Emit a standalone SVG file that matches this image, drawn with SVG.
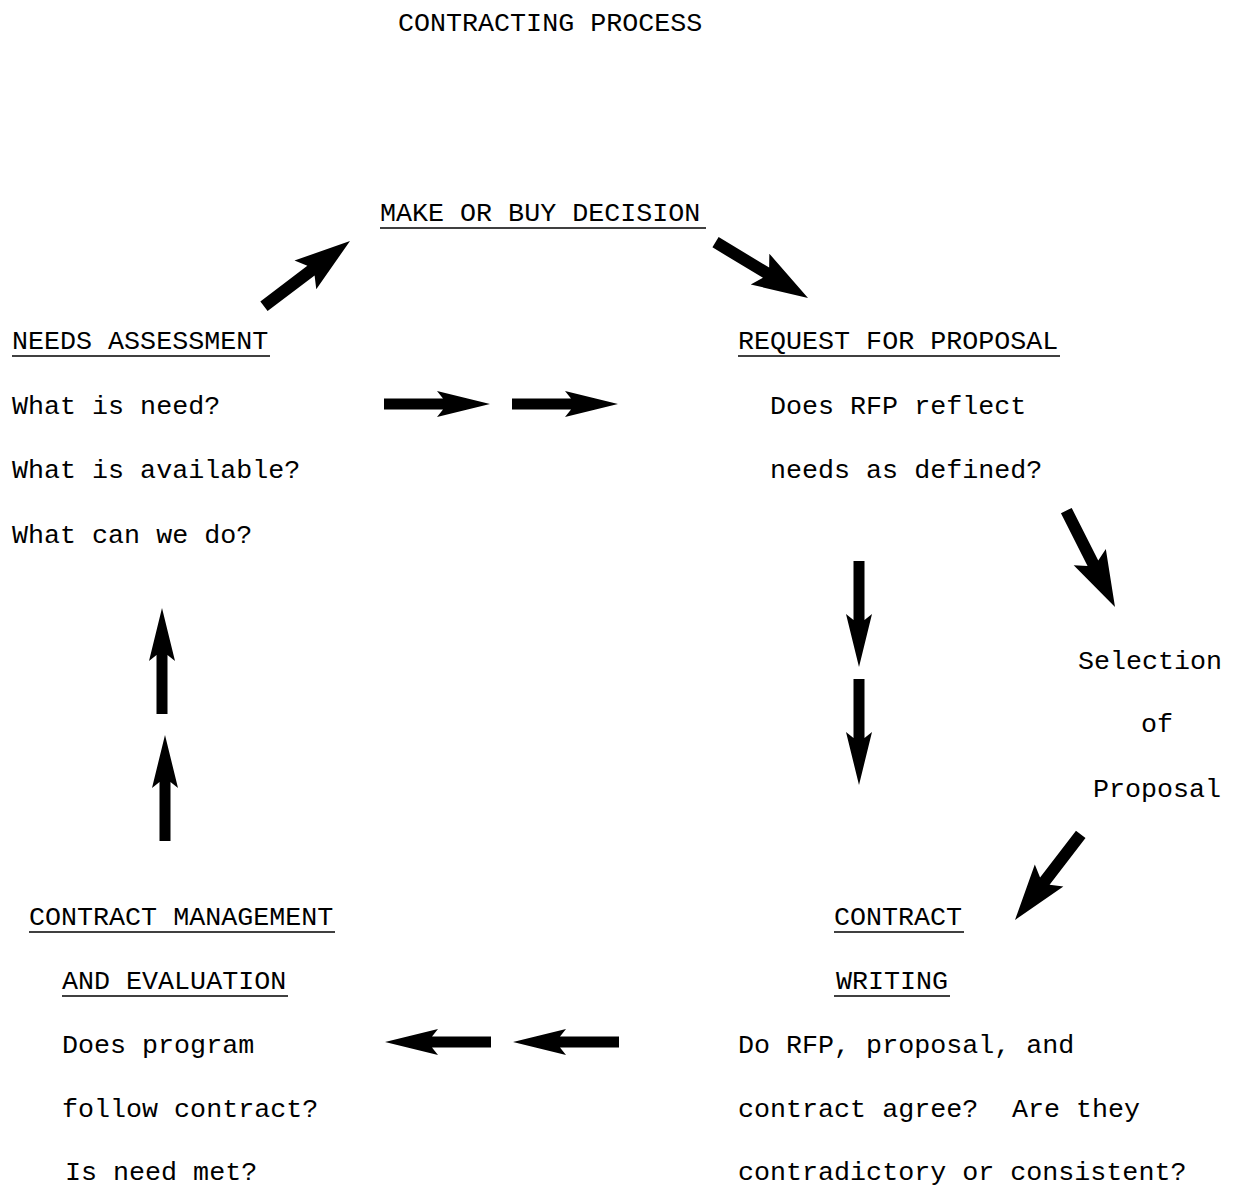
<svg xmlns="http://www.w3.org/2000/svg" xmlns:xlink="http://www.w3.org/1999/xlink" width="1236" height="1188" viewBox="0 0 1236 1188">
<style>
text{font-family:"Liberation Mono","DejaVu Sans Mono",monospace;font-size:26.7px;fill:#000}
.ul{stroke:#000;stroke-width:1.6}
</style>
<defs>
<path id="arr" d="M0,0 L-53,-13 L-47,-5.5 L-106,-5.5 L-106,5.5 L-47,5.5 L-53,13 Z" fill="#000"/>
<path id="arrD" d="M0,0 L-56,-18 L-49,-6 L-108,-6 L-108,6 L-49,6 L-56,18 Z" fill="#000"/>
</defs>
<rect width="1236" height="1188" fill="#fff"/>
<text x="398" y="31">CONTRACTING PROCESS</text>
<g id="make-or-buy">
<text x="380" y="221">MAKE OR BUY DECISION</text>
<line class="ul" x1="380" y1="228" x2="706" y2="228"/>
</g>
<g id="needs-assessment">
<text x="12" y="349">NEEDS ASSESSMENT</text>
<line class="ul" x1="12" y1="356" x2="270" y2="356"/>
<text x="12" y="414">What is need?</text>
<text x="12" y="478">What is available?</text>
<text x="12" y="543">What can we do?</text>
</g>
<g id="rfp">
<text x="738" y="349">REQUEST FOR PROPOSAL</text>
<line class="ul" x1="738" y1="356" x2="1060" y2="356"/>
<text x="770" y="414">Does RFP reflect</text>
<text x="770" y="478">needs as defined?</text>
</g>
<g id="selection">
<text x="1078" y="669">Selection</text>
<text x="1141" y="732">of</text>
<text x="1093" y="797">Proposal</text>
</g>
<g id="contract-writing">
<text x="834" y="925">CONTRACT</text>
<line class="ul" x1="834" y1="932" x2="964" y2="932"/>
<text x="836" y="989">WRITING</text>
<line class="ul" x1="834" y1="996" x2="950" y2="996"/>
<text x="738" y="1053">Do RFP, proposal, and</text>
<text x="738" y="1117">contract agree? <tspan x="1012">Are they</tspan></text>
<text x="738" y="1180">contradictory or consistent?</text>
</g>
<g id="contract-management">
<text x="29" y="925">CONTRACT MANAGEMENT</text>
<line class="ul" x1="29" y1="932" x2="335" y2="932"/>
<text x="62" y="989">AND EVALUATION</text>
<line class="ul" x1="62" y1="996" x2="288" y2="996"/>
<text x="62" y="1053">Does program</text>
<text x="62" y="1117">follow contract?</text>
<text x="65" y="1180">Is need met?</text>
</g>
<g id="connectors">
<use xlink:href="#arrD" transform="translate(350,241) rotate(-37.2)"/>
<use xlink:href="#arrD" transform="translate(808,298) rotate(31.1)"/>
<use xlink:href="#arr" transform="translate(490,404)"/>
<use xlink:href="#arr" transform="translate(618,404)"/>
<use xlink:href="#arrD" transform="translate(1115,607) rotate(63.2)"/>
<use xlink:href="#arr" transform="translate(859,667) rotate(90)"/>
<use xlink:href="#arr" transform="translate(859,785) rotate(90)"/>
<use xlink:href="#arrD" transform="translate(1015,920) rotate(127.5)"/>
<use xlink:href="#arr" transform="translate(385,1042) rotate(180)"/>
<use xlink:href="#arr" transform="translate(513,1042) rotate(180)"/>
<use xlink:href="#arr" transform="translate(162,608) rotate(-90)"/>
<use xlink:href="#arr" transform="translate(165,735) rotate(-90)"/>
</g>
</svg>
